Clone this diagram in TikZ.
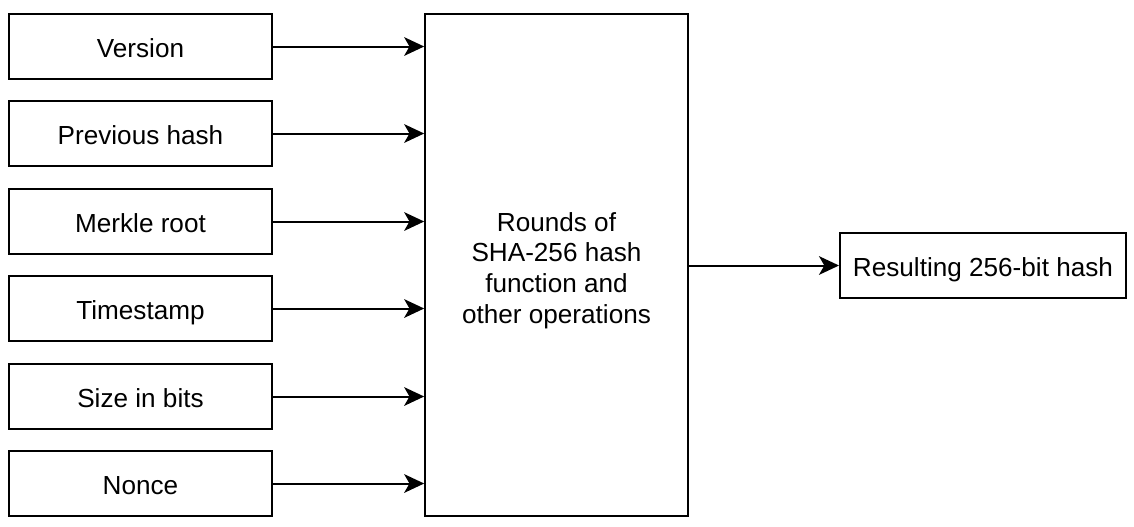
\documentclass[tikz,border=0pt]{standalone}
\usepackage{fontspec}
\setmainfont{Liberation Sans}
\usetikzlibrary{arrows.meta,positioning}
\tikzset{
  field/.style={draw, line width=1.5pt, minimum width=197pt, minimum height=49pt, inner sep=0pt},
  onerow/.style={field, text height=19.8pt, text depth=4pt},
  link/.style={->, line width=1.5pt}
}
\begin{document}
\begin{tikzpicture}[>={Stealth[length=15pt,width=14pt,inset=4pt]}, x=0.75pt, y=-0.75pt,
    every node/.style={font=\fontsize{19.6}{23.1}\selectfont}]
    \useasboundingbox (0,0) rectangle (1134,526);
    \node[onerow] (ver) at (140.5,46.5) {Version};
    \node[onerow] (prev) at (140.5,133.5) {Previous hash};
    \node[onerow] (merk) at (140.5,221.5) {Merkle root};
    \node[onerow] (time) at (140.5,308.5) {Timestamp};
    \node[onerow] (size) at (140.5,396.5) {Size in bits};
    \node[onerow] (nonce) at (140.5,483.5) {Nonce};
    \node[field, minimum height=376.5pt, align=center] (sha) at (556.5,265) {\mbox{}\\[-0.5pt]Rounds of\\SHA-256 hash\\function and\\other operations};
    \node[onerow, minimum width=214.5pt] (res) at (983,265.5) {Resulting 256-bit hash};
    % inputs
    \foreach \f in {ver,prev,merk,time,size,nonce}
      \draw[link] (\f.east) -- (\f.east -| sha.west);
    \draw[link] (sha.east |- res.west) -- (res.west);
\end{tikzpicture}
\end{document}
